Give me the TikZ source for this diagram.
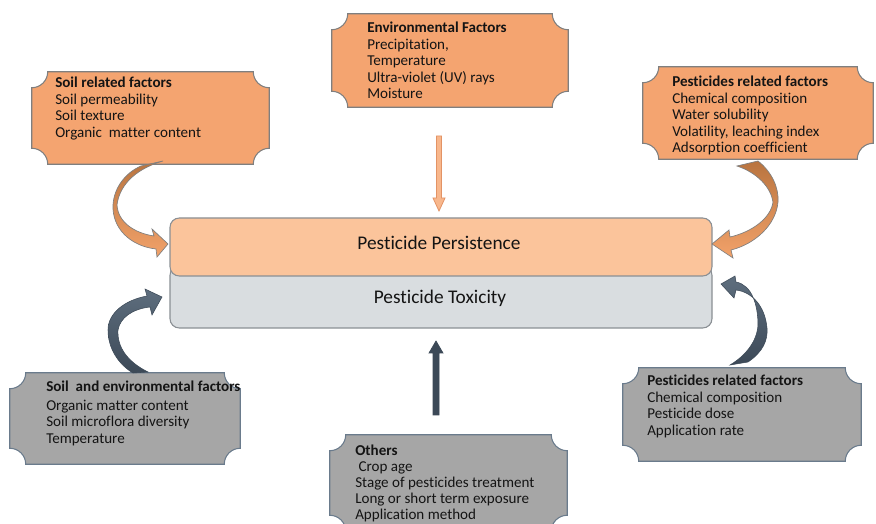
\documentclass[tikz,border=0pt]{standalone}
\usepackage{fontspec}
\setmainfont{Carlito}[Ligatures=NoCommon]
\usetikzlibrary{calc}
\definecolor{orangefill}{HTML}{F4A470}
\definecolor{greyfill}{HTML}{A6A6A6}
\definecolor{plaqueborder}{HTML}{7F7F7F}
\definecolor{greyborder}{HTML}{6A7B8C}
\definecolor{persistfill}{HTML}{FBC49B}
\definecolor{toxfill}{HTML}{D9DDE0}
\definecolor{boxborder}{HTML}{8A8F94}
\definecolor{txtcol}{HTML}{141414}
\definecolor{arrowlightfill}{HTML}{F8B78C}
\definecolor{arrowlightborder}{HTML}{E39365}
\definecolor{brownA}{HTML}{B9743F}
\definecolor{brownB}{HTML}{F2A26A}
\definecolor{slateA}{HTML}{3C4957}
\definecolor{slateB}{HTML}{5E6E7E}
\newcommand{\drawplaque}[3]{%
  \draw[line width=0.8pt, draw=#3, fill=#2]
    ($(#1.north west)+(16,0)$) -- ($(#1.north east)+(-16,0)$)
    arc[start angle=180, end angle=90, radius=16]
    -- ($(#1.south east)+(0,-16)$)
    arc[start angle=270, end angle=180, radius=16]
    -- ($(#1.south west)+(16,0)$)
    arc[start angle=0, end angle=-90, radius=16]
    -- ($(#1.north west)+(0,16)$)
    arc[start angle=90, end angle=0, radius=16] -- cycle;}
\begin{document}
\begin{tikzpicture}[x=0.75pt,y=-0.75pt,
  area/.style 2 args={inner sep=0, draw=none, minimum width=#1*0.75pt, minimum height=#2*0.75pt},
  txt/.style={anchor=north west, inner sep=0, align=left, text=txtcol, font=\fontsize{11.3}{12.3}\selectfont},
  midtxt/.style={anchor=base, inner sep=0, text=txtcol, font=\fontsize{14.5}{17}\selectfont},
  midbox/.style={rounded corners=7pt, line width=0.8pt},
  curvedorange/.style={draw=plaqueborder, line width=0.5pt, top color=brownA, bottom color=brownB},
  curvedslate/.style={draw=slateA, line width=0.4pt, top color=slateB, bottom color=slateA},
  lightarrow/.style={draw=arrowlightborder, line width=0.6pt, fill=arrowlightfill},
  darkarrow/.style={draw=slateA, line width=0.5pt, fill=slateA}]
\useasboundingbox (0,0) rectangle (876,524);
\fill[white] (0,0) rectangle (876,524);

% plaque areas
\node[area={237}{92}] (soil) at (150.5,118) {};
\node[area={236}{93}] (env) at (450,60.5) {};
\node[area={230}{92}] (pestA) at (758,113) {};
\node[area={230}{91}] (soilenv) at (125,418.5) {};
\node[area={237}{96}] (others) at (448.5,483) {};
\node[area={238}{93}] (pestB) at (742,414.5) {};

\drawplaque{soil}{orangefill}{plaqueborder}
\drawplaque{env}{orangefill}{plaqueborder}
\drawplaque{pestA}{orangefill}{plaqueborder}
\drawplaque{soilenv}{greyfill}{greyborder}
\drawplaque{others}{greyfill}{greyborder}
\drawplaque{pestB}{greyfill}{greyborder}

% central boxes
\node[midbox, area={542}{62}, draw=boxborder, fill=toxfill] (tox) at (441,297) {};
\node[midbox, area={542}{58}, draw=boxborder, fill=persistfill] (persist) at (441,247) {};
\node[midtxt] (persistlbl) at (439,249.5) {Pesticide Persistence};
\node[midtxt] (toxlbl) at (440,304) {Pesticide Toxicity};

% texts
\node[txt] (soiltxt) at (55,77) {\textbf{Soil related factors}\\Soil permeability\\Soil texture\\Organic\ \ matter content};
\node[txt] (envtxt) at (367,22) {\textbf{Environmental Factors}\\Precipitation,\\Temperature\\Ultra-violet (UV) rays\\Moisture};
\node[txt] (pestAtxt) at (672,76) {\textbf{Pesticides related factors}\\Chemical composition\\Water solubility\\Volatility, leaching index\\Adsorption coefficient};
\node[txt] (soilenvtxt) at (46,381) {\textbf{Soil\ \ and environmental factors}\\[1.5pt]Organic matter content\\Soil microflora diversity\\Temperature};
\node[txt, font=\fontsize{11.3}{12}\selectfont] (otherstxt) at (355,444.5) {\textbf{Others}\\\ Crop age\\Stage of pesticides treatment\\Long or short term exposure\\Application method};
\node[txt] (pestBtxt) at (647,375) {\textbf{Pesticides related factors}\\Chemical composition\\Pesticide dose\\Application rate};

% straight arrows
\draw[lightarrow] (436.5,136) -- (441.5,136) -- (441.5,198) -- (445,198) -- (439,211) -- (433,198) -- (436.5,198) -- cycle;
\draw[darkarrow] (433,415) -- (439,415) -- (439,353) -- (443,353) -- (436,341) -- (429,353) -- (433,353) -- cycle;

% curved arrows: soil -> persistence
\draw[curvedorange] (163,161) .. controls (132,170) and (119,188) .. (117,205)
  .. controls (118,222) and (134,233) .. (154,236) -- (152,229) -- (168,244) -- (157,257) -- (156,249)
  .. controls (130,246) and (112,228) .. (113,205)
  .. controls (114,188) and (125,173) .. (141,166) -- cycle;
% pesticides -> persistence
\draw[curvedorange] (758,161) .. controls (772,172) and (779,188) .. (778,202)
  .. controls (776,225) and (755,244) .. (731,250) -- (733,258) -- (712,244) -- (729,230) -- (730,237)
  .. controls (752,232) and (771,218) .. (773,202)
  .. controls (771,188) and (758,173) .. (737,166) -- cycle;
% soil and environmental -> toxicity
\draw[curvedslate] (148,372) .. controls (126,361) and (117,346) .. (118,330)
  .. controls (120,318) and (132,309) .. (150,307) -- (152,315) -- (162,297) -- (145,289) -- (147,296)
  .. controls (125,300) and (108,313) .. (108,330)
  .. controls (108,348) and (118,364) .. (133,373) -- cycle;
% pesticides (bottom) -> toxicity
\draw[curvedslate] (748,362) .. controls (763,352) and (768,340) .. (767,328)
  .. controls (765,306) and (752,292) .. (736,290) -- (734,298) -- (721,284) -- (735,276) -- (736,282)
  .. controls (752,285) and (758,305) .. (758,325)
  .. controls (757,342) and (745,356) .. (730,365) -- cycle;
\end{tikzpicture}
\end{document}
